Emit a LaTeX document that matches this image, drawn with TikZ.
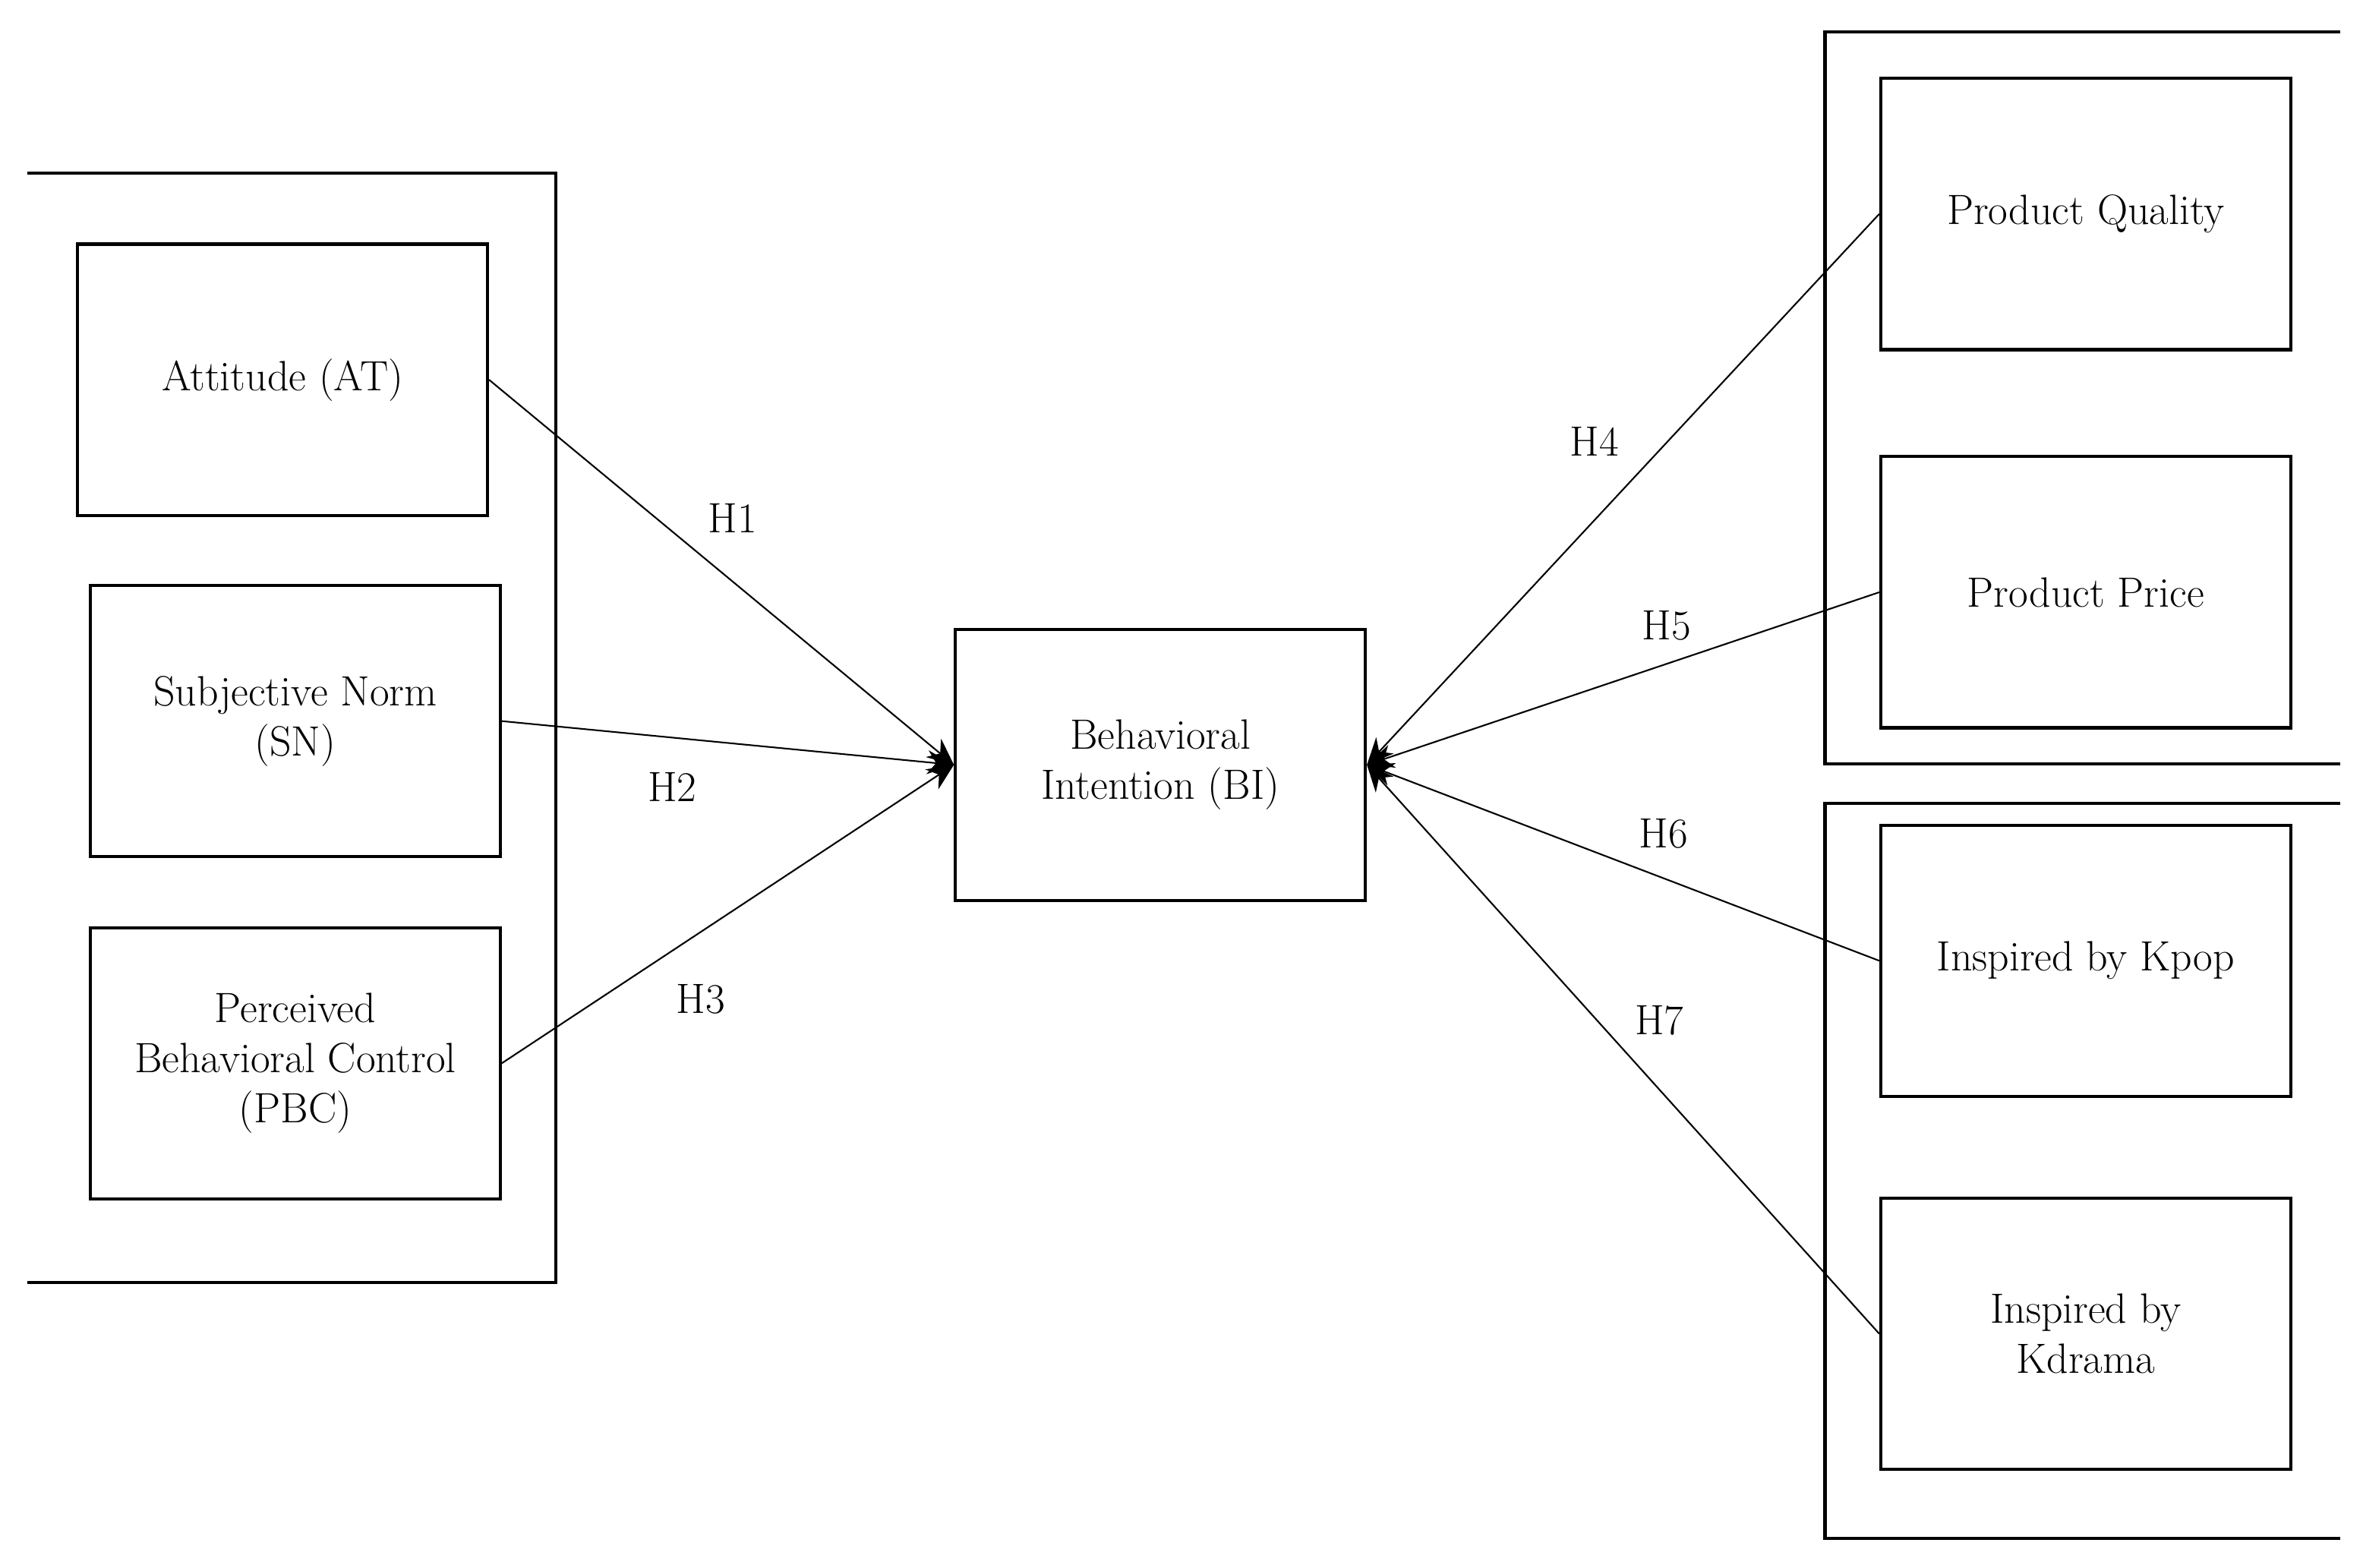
\documentclass[tikz,border=0pt]{standalone}
\usetikzlibrary{arrows.meta}
\begin{document}
\begin{tikzpicture}[x=0.02cm,y=-0.02cm,
 box/.style={draw,line width=1.2pt,minimum width=5.44cm,minimum height=3.6cm,align=center,font=\fontsize{16}{19}\selectfont,inner sep=0pt},
 frame/.style={line width=1.2pt},
 link/.style={line width=0.6pt,-{Stealth[length=10pt,width=9pt]}},
 lab/.style={font=\fontsize{16}{19}\selectfont}]
\useasboundingbox (0,0) rectangle (1568,1040);
\draw[frame] (18,115) -- (369,115) -- (369,851) -- (18,851);
\draw[frame] (1553,21) -- (1211,21) -- (1211,507) -- (1553,507);
\draw[frame] (1553,533) -- (1211,533) -- (1211,1021) -- (1553,1021);
\node[box] (at) at (187.5,252) {Attitude (AT)};
\node[box] (sn) at (196,478.5) {Subjective Norm\\(SN)};
\node[box] (pbc) at (196,705.5) {Perceived\\Behavioral Control\\(PBC)};
\node[box] (bi) at (770,507.5) {Behavioral\\Intention (BI)};
\node[box] (pq) at (1384,142) {Product Quality};
\node[box] (pp) at (1384,393) {Product Price};
\node[box] (kp) at (1384,637.5) {Inspired by Kpop};
\node[box] (kd) at (1384,885) {Inspired by\\Kdrama};
\draw[link] (at.east) -- (bi.west);
\draw[link] (sn.east) -- (bi.west);
\draw[link] (pbc.east) -- (bi.west);
\draw[link] (pq.west) -- (bi.east);
\draw[link] (pp.west) -- (bi.east);
\draw[link] (kp.west) -- (bi.east);
\draw[link] (kd.west) -- (bi.east);
\node[lab] (h1) at (486,344) {H1};
\node[lab] (h2) at (446,522) {H2};
\node[lab] (h3) at (465,663) {H3};
\node[lab] (h4) at (1058,293) {H4};
\node[lab] (h5) at (1106,415) {H5};
\node[lab] (h6) at (1104,553) {H6};
\node[lab] (h7) at (1101,677) {H7};
\end{tikzpicture}
\end{document}
